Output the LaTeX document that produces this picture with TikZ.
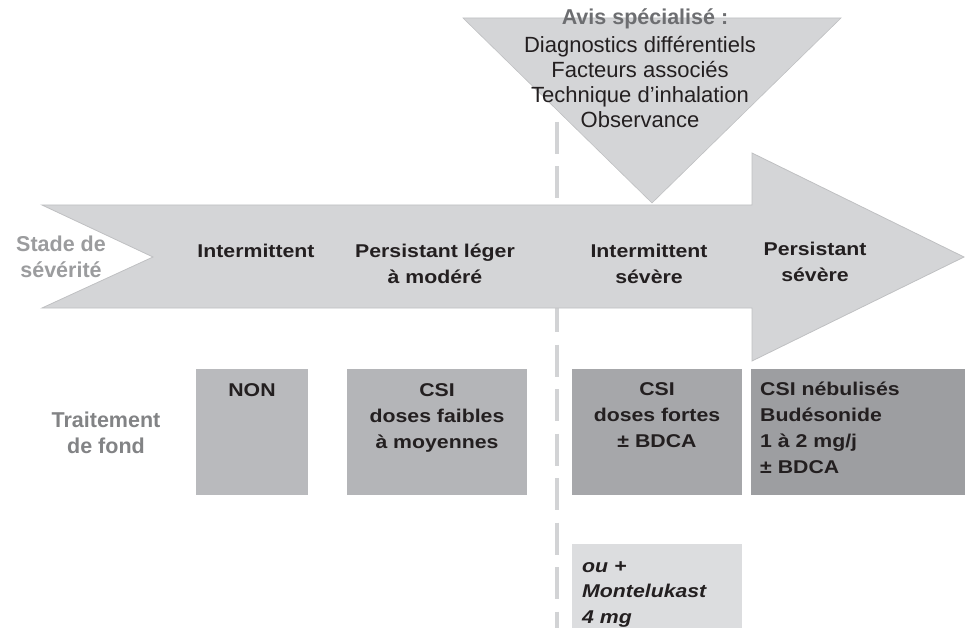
\documentclass[tikz,border=0pt]{standalone}
\usepackage{fontspec}
\setmainfont{Liberation Sans}
\newfontfamily\widefont{Liberation Sans}[FakeStretch=1.15]
\definecolor{txt}{HTML}{231F20}
\definecolor{arrowfill}{HTML}{D4D5D7}
\definecolor{arrowedge}{HTML}{BFC0C2}
\definecolor{boxa}{HTML}{B9BABD}
\definecolor{boxb}{HTML}{B4B5B8}
\definecolor{boxc}{HTML}{A6A7AA}
\definecolor{boxd}{HTML}{9D9EA1}
\definecolor{boxe}{HTML}{DCDDDF}
\definecolor{dashcol}{HTML}{D2D3D5}
\definecolor{graylight}{HTML}{9B9C9E}
\definecolor{graydark}{HTML}{828385}
\definecolor{hdr}{HTML}{6D6E71}
\tikzset{
  lbl/.style={font=\widefont\bfseries\fontsize{18.5}{26}\selectfont, text=txt, align=center, inner sep=0pt, anchor=base},
  lblleft/.style={lbl, align=left, anchor=base west},
  lblit/.style={lblleft, font=\widefont\bfseries\itshape\fontsize{18.5}{25.5}\selectfont},
  side/.style={font=\bfseries\fontsize{21.5}{26}\selectfont, align=center, inner sep=0pt, anchor=base},
  tri/.style={font=\fontsize{22}{25}\selectfont, text=txt, align=center, inner sep=0pt, anchor=base},
}
\begin{document}
\begin{tikzpicture}[x=1pt,y=-1pt]
\useasboundingbox (0,0) rectangle (965,628);
% dashed separator
\draw[dashcol, line width=4pt, dash pattern=on 32pt off 12.5pt] (557,122) coordinate (dtop) -- (557,640) coordinate (dbot);
% main arrow
\filldraw[fill=arrowfill, draw=arrowedge, line width=0.8pt]
  (42,205) -- (752,205) -- (752,153) -- (964,257) -- (752,361) -- (752,308) -- (42,308) -- (153,257) -- cycle;
% triangle
\filldraw[fill=arrowfill, draw=arrowedge, line width=0.6pt] (463,18) -- (841,18) -- (652,203) -- cycle;
% triangle text (base anchor = last line baseline)
\node[side, text=hdr] (avis) at (645,25) {Avis spécialisé :};
\node[tri] (avislist) at (640,128) {Diagnostics différentiels\\Facteurs associés\\Technique d’inhalation\\Observance};
% stage labels
\node[side, text=graylight] (stade) at (61,277) {Stade de\\sévérité};
\node[lbl] (s1) at (256,257) {Intermittent};
\node[lbl] (s2) at (435,283) {Persistant léger\\à modéré};
\node[lbl] (s3) at (649,283) {Intermittent\\sévère};
\node[lbl] (s4) at (815,281) {Persistant\\sévère};
% treatment boxes
\fill[boxa] (196,369) rectangle (308,495);
\fill[boxb] (347,369) rectangle (527,495);
\fill[boxc] (572,369) rectangle (742,495);
\fill[boxd] (751,369) rectangle (966,495);
\fill[boxe] (572,544) rectangle (742,630);
\node[side, text=graydark] (trait) at (106,453) {Traitement\\de fond};
\node[lbl] (t1) at (252,396) {NON};
\node[lbl] (t2) at (437,448) {CSI\\doses faibles\\à moyennes};
\node[lbl] (t3) at (657,447) {CSI\\doses fortes\\± BDCA};
\node[lblleft] (t4) at (760,473) {CSI nébulisés\\Budésonide\\1 à 2 mg/j\\± BDCA};
\node[lblit] (t5) at (582,623) {ou +\\Montelukast\\4 mg};
\end{tikzpicture}
\end{document}
